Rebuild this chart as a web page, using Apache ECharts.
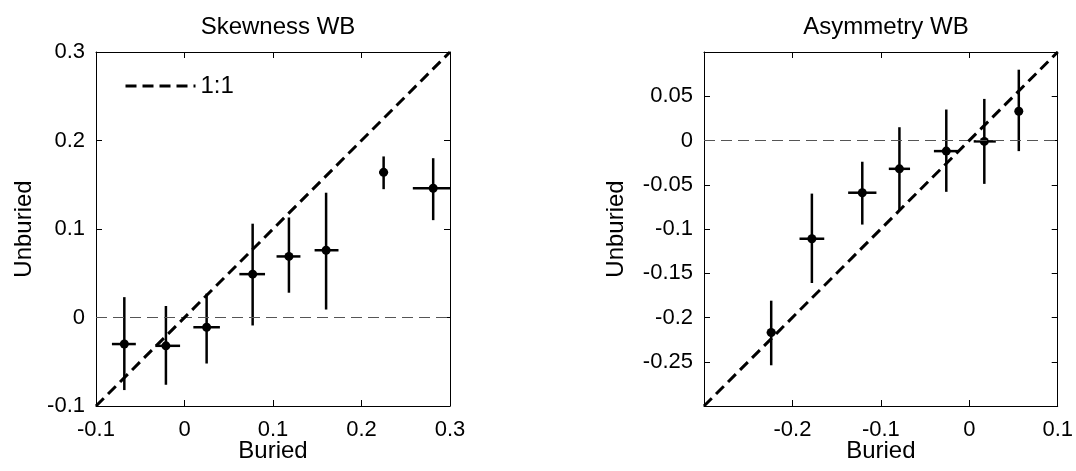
<!DOCTYPE html>
<html>
<head>
<meta charset="utf-8">
<script src="https://cdn.jsdelivr.net/npm/echarts@6/dist/echarts.min.js"></script>
<style>
  html, body { margin: 0; padding: 0; background: #fff; }
  #chart { width: 1076px; height: 471px; }
</style>
</head>
<body>
<div id="chart"></div>
<script>
// Skewness WB (left panel)
const skewBuried = [-0.068, -0.021, 0.025, 0.077, 0.118, 0.160, 0.225, 0.281]
const skewUnburied = [-0.030, -0.032, -0.011, 0.049, 0.069, 0.076, 0.164, 0.146]
const skewBuriedLo = [-0.082, -0.033, 0.010, 0.062, 0.104, 0.147, 0.220, 0.258]
const skewBuriedHi = [-0.055, -0.005, 0.040, 0.091, 0.131, 0.174, 0.230, 0.304]
const skewUnburiedLo = [-0.082, -0.076, -0.052, -0.009, 0.028, 0.009, 0.145, 0.110]
const skewUnburiedHi = [0.023, 0.013, 0.027, 0.106, 0.113, 0.141, 0.182, 0.180]

// Asymmetry WB (right panel)
const asymBuried = [-0.224, -0.178, -0.121, -0.079, -0.026, 0.017, 0.056]
const asymUnburied = [-0.217, -0.111, -0.059, -0.032, -0.012, -0.001, 0.033]
const asymBuriedLo = [-0.229, -0.192, -0.137, -0.091, -0.040, 0.005, 0.053]
const asymBuriedHi = [-0.219, -0.164, -0.105, -0.067, -0.012, 0.030, 0.059]
const asymUnburiedLo = [-0.254, -0.161, -0.095, -0.079, -0.058, -0.049, -0.012]
const asymUnburiedHi = [-0.181, -0.060, -0.024, 0.015, 0.035, 0.047, 0.080]

const skewOneToOne = [[-0.1, -0.1], [0.3, 0.3]]
const asymOneToOne = [[-0.3, -0.3], [0.1, 0.1]]
const skewZero = [[-0.1, 0], [0.3, 0]]
const asymZero = [[-0.3, 0], [0.1, 0]]

const FONT = "'Liberation Sans', Arial, sans-serif"
const chart = echarts.init(document.getElementById('chart'))

function rows(x, y, xl, xh, yl, yh) {
  return x.map((v, i) => [v, y[i], xl[i], xh[i], yl[i], yh[i]])
}

function errorBars(params, api) {
  const x = api.value(0)
  const y = api.value(1)
  const a = api.coord([api.value(2), y])
  const b = api.coord([api.value(3), y])
  const c = api.coord([x, api.value(4)])
  const d = api.coord([x, api.value(5)])
  const style = { stroke: '#000', lineWidth: 2.5 }
  return {
    type: 'group',
    children: [
      { type: 'line', shape: { x1: a[0], y1: a[1], x2: b[0], y2: b[1] }, style: style },
      { type: 'line', shape: { x1: c[0], y1: c[1], x2: d[0], y2: d[1] }, style: style }
    ]
  }
}

const near = (v, t) => Math.abs(v - t) < 1e-9
const tickLabel = { color: '#000', fontSize: 22, fontFamily: FONT }
const nameText = { color: '#000', fontSize: 24, fontFamily: FONT }
const axisLine = { show: true, onZero: false, lineStyle: { color: '#000', width: 1 } }
const axisTick = { show: true, inside: true, length: 6, lineStyle: { color: '#000' } }

function xAxes(grid, min, max, hide) {
  return [{
    gridIndex: grid, type: 'value', position: 'bottom', min: min, max: max, interval: 0.1,
    name: 'Buried', nameLocation: 'middle', nameGap: 33, nameMoveOverlap: false, nameTextStyle: nameText,
    axisLine: axisLine, axisTick: axisTick, splitLine: { show: false },
    axisLabel: Object.assign({ margin: 13, showMinLabel: true, showMaxLabel: true,
      formatter: v => hide.some(h => near(v, h)) ? '' : String(+v.toFixed(2)) }, tickLabel)
  }, {
    gridIndex: grid, type: 'value', position: 'top', min: min, max: max, interval: 0.1,
    axisLine: axisLine, axisTick: axisTick, splitLine: { show: false }, axisLabel: { show: false }
  }]
}

function yAxes(grid, min, max, interval, hide, gap) {
  return [{
    gridIndex: grid, type: 'value', position: 'left', min: min, max: max, interval: interval,
    name: 'Unburied', nameLocation: 'middle', nameGap: gap, nameTextStyle: nameText,
    axisLine: axisLine, axisTick: axisTick, splitLine: { show: false },
    axisLabel: Object.assign({ margin: 11, showMinLabel: true, showMaxLabel: true,
      formatter: v => hide.some(h => near(v, h)) ? '' : String(+v.toFixed(2)) }, tickLabel)
  }, {
    gridIndex: grid, type: 'value', position: 'right', min: min, max: max, interval: interval,
    axisLine: axisLine, axisTick: axisTick, splitLine: { show: false }, axisLabel: { show: false }
  }]
}

chart.setOption({
  backgroundColor: '#fff',
  animation: false,
  title: [
    { text: 'Skewness WB', left: 273, top: 10, textAlign: 'center',
      textStyle: { color: '#000', fontSize: 24, fontWeight: 'normal', fontFamily: FONT } },
    { text: 'Asymmetry WB', left: 881, top: 10, textAlign: 'center',
      textStyle: { color: '#000', fontSize: 24, fontWeight: 'normal', fontFamily: FONT } }
  ],
  legend: {
    data: ['1:1'], left: 119, top: 69, itemWidth: 70, itemHeight: 14, itemGap: 6,
    itemStyle: { opacity: 0 },
    lineStyle: { color: '#000', width: 3, type: [11, 6] },
    textStyle: { color: '#000', fontSize: 24, fontFamily: FONT }
  },
  grid: [
    { left: 96, top: 52, width: 354, height: 354 },
    { left: 704, top: 52, width: 354, height: 354 }
  ],
  xAxis: xAxes(0, -0.1, 0.3, []).concat(xAxes(1, -0.3, 0.1, [-0.3])),
  yAxis: yAxes(0, -0.1, 0.3, 0.1, [], 60).concat(yAxes(1, -0.3, 0.1, 0.05, [-0.3, 0.1], 76)),
  series: [
    { type: 'line', xAxisIndex: 0, yAxisIndex: 0, data: skewZero, symbol: 'none', silent: true,
      lineStyle: { color: '#555', width: 1, type: [11, 6] } },
    { type: 'line', name: '1:1', xAxisIndex: 0, yAxisIndex: 0, data: skewOneToOne, symbol: 'none',
      lineStyle: { color: '#000', width: 3, type: [11, 6] }, itemStyle: { color: '#000' } },
    { type: 'custom', xAxisIndex: 0, yAxisIndex: 0, renderItem: errorBars, clip: true,
      data: rows(skewBuried, skewUnburied, skewBuriedLo, skewBuriedHi, skewUnburiedLo, skewUnburiedHi) },
    { type: 'scatter', xAxisIndex: 0, yAxisIndex: 0, symbolSize: 9, itemStyle: { color: '#000', opacity: 1 },
      data: skewBuried.map((v, i) => [v, skewUnburied[i]]) },

    { type: 'line', xAxisIndex: 2, yAxisIndex: 2, data: asymZero, symbol: 'none', silent: true,
      lineStyle: { color: '#555', width: 1, type: [11, 6] } },
    { type: 'line', name: '1:1 asym', xAxisIndex: 2, yAxisIndex: 2, data: asymOneToOne, symbol: 'none',
      lineStyle: { color: '#000', width: 3, type: [11, 6] } },
    { type: 'custom', xAxisIndex: 2, yAxisIndex: 2, renderItem: errorBars, clip: true,
      data: rows(asymBuried, asymUnburied, asymBuriedLo, asymBuriedHi, asymUnburiedLo, asymUnburiedHi) },
    { type: 'scatter', xAxisIndex: 2, yAxisIndex: 2, symbolSize: 9, itemStyle: { color: '#000', opacity: 1 },
      data: asymBuried.map((v, i) => [v, asymUnburied[i]]) }
  ]
})
</script>
</body>
</html>
